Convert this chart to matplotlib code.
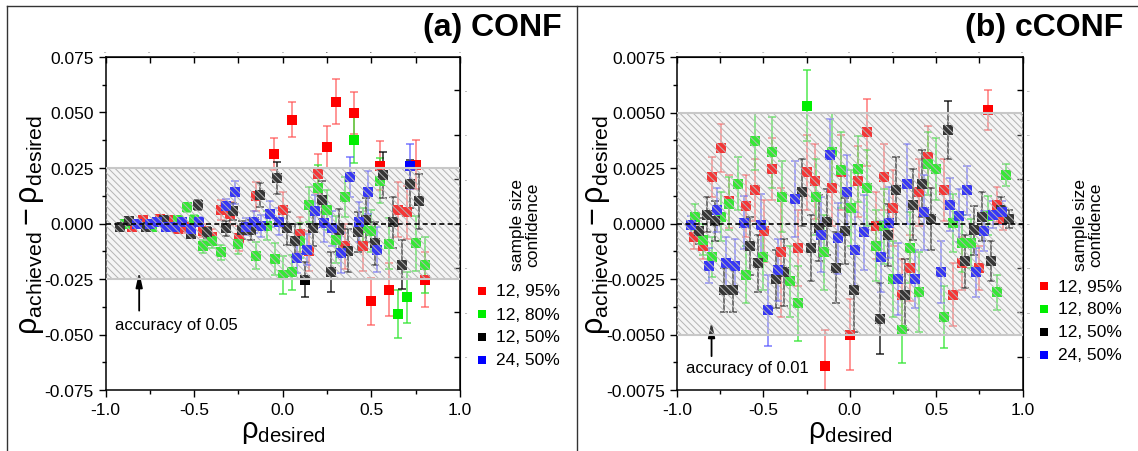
import matplotlib
matplotlib.use("Agg")
import matplotlib.pyplot as plt
from matplotlib.lines import Line2D
from matplotlib.patches import Rectangle
from matplotlib.ticker import MultipleLocator, FormatStrFormatter

plt.rcParams['font.family'] = ['Liberation Sans', 'DejaVu Sans']
plt.rcParams['mathtext.fontset'] = 'custom'
plt.rcParams['mathtext.rm'] = 'Liberation Sans'
plt.rcParams['mathtext.it'] = 'Liberation Sans:italic'
plt.rcParams['axes.unicode_minus'] = False
plt.rcParams['hatch.linewidth'] = 0.7

# ---------------- panel (a) CONF ----------------
a_red_x = [-0.85, -0.79, -0.69, -0.64, -0.59, -0.55, -0.45, -0.40, -0.35, -0.30, -0.245, -0.15, -0.05, 0.0,
           0.05, 0.10, 0.15, 0.20, 0.25, 0.30, 0.35, 0.40, 0.45, 0.50, 0.55, 0.60, 0.65, 0.70, 0.75, 0.80]
a_red_y = [-0.0014, 0.0015, 0.002, 0.0017, -0.0025, -0.0016, -0.0032, -0.0062, 0.0062, 0.0045, -0.0067, 0.0122,
           0.0313, 0.0062, 0.0468, -0.0049, -0.0122, 0.0224, 0.0343, 0.0549, -0.0103, 0.0498, -0.0103, -0.035,
           0.026, -0.0298, 0.0062, 0.005, 0.0265, -0.0253]
a_red_e = [0.001, 0.0012, 0.0015, 0.0018, 0.002, 0.0025, 0.003, 0.0035, 0.0045, 0.005, 0.0055, 0.0065, 0.007,
           0.008, 0.008, 0.008, 0.009, 0.009, 0.0095, 0.010, 0.010, 0.0095, 0.011, 0.0105, 0.011, 0.012, 0.0125,
           0.012, 0.011, 0.0125]

a_green_x = [-0.89, -0.74, -0.59, -0.54, -0.50, -0.45, -0.40, -0.35, -0.25, -0.15, -0.09, -0.045, 0.0, 0.05,
             0.10, 0.15, 0.20, 0.25, 0.30, 0.35, 0.40, 0.45, 0.50, 0.55, 0.60, 0.65, 0.70, 0.75, 0.80]
a_green_y = [0.0, -0.0017, 0.0017, 0.0073, 0.0017, -0.0103, -0.008, -0.013, -0.0092, -0.0145, -0.001, -0.016,
             -0.0232, -0.022, -0.0077, 0.0085, 0.0158, 0.006, -0.0073, 0.0118, 0.0377, -0.0022, -0.0032, 0.0193,
             -0.0092, -0.0408, -0.0333, -0.0089, -0.0187]
a_green_e = [0.0008, 0.001, 0.0015, 0.002, 0.0022, 0.0028, 0.003, 0.0035, 0.0045, 0.006, 0.0065, 0.007, 0.0085,
             0.008, 0.008, 0.008, 0.0105, 0.009, 0.0105, 0.009, 0.0105, 0.009, 0.0095, 0.010, 0.0115, 0.011,
             0.0115, 0.0125, 0.0125]

a_black_x = [-0.92, -0.87, -0.77, -0.67, -0.52, -0.48, -0.43, -0.32, -0.28, -0.23, -0.18, -0.13, -0.03, 0.025,
             0.07, 0.125, 0.17, 0.22, 0.27, 0.32, 0.37, 0.425, 0.47, 0.52, 0.565, 0.62, 0.67, 0.72, 0.77]
a_black_y = [-0.0014, 0.001, -0.0014, 0.0017, -0.0047, 0.0085, -0.004, -0.0022, 0.0055, -0.003, -0.003, 0.0128,
             0.0205, -0.0022, -0.0077, -0.0253, -0.0022, 0.0107, -0.0217, -0.003, -0.0122, -0.0037, 0.0017,
             -0.009, 0.0218, 0.0005, -0.0185, 0.0178, 0.01]
a_black_e = [0.0006, 0.0008, 0.001, 0.0012, 0.002, 0.0022, 0.0025, 0.0035, 0.0038, 0.004, 0.0045, 0.0055, 0.007,
             0.0075, 0.0075, 0.008, 0.008, 0.0085, 0.009, 0.0095, 0.0095, 0.009, 0.01, 0.0095, 0.0105, 0.0115,
             0.011, 0.011, 0.0125]

a_blue_x = [-0.82, -0.75, -0.71, -0.66, -0.61, -0.57, -0.52, -0.47, -0.32, -0.27, -0.21, -0.165, -0.12, -0.07,
            -0.02, 0.08, 0.135, 0.18, 0.23, 0.28, 0.33, 0.38, 0.43, 0.48, 0.53, 0.72]
a_blue_y = [0.0, 0.0, 0.0008, -0.0014, -0.0014, 0.0008, -0.0025, 0.0008, 0.0077, 0.014, -0.0014, 0.0008, -0.001,
            0.0043, 0.0008, -0.0155, -0.0118, 0.0055, 0.0002, -0.0022, -0.0133, 0.0208, 0.0005, 0.014, -0.0118,
            0.0257]
a_blue_e = [0.0006, 0.0008, 0.0008, 0.001, 0.0012, 0.0015, 0.0018, 0.002, 0.0035, 0.005, 0.004, 0.005, 0.005,
            0.006, 0.006, 0.007, 0.007, 0.0075, 0.0085, 0.008, 0.009, 0.009, 0.009, 0.0095, 0.01, 0.01]

# ---------------- panel (b) cCONF ----------------
b_red_x = [-0.90, -0.85, -0.796, -0.747, -0.70, -0.60, -0.547, -0.495, -0.448, -0.40, -0.30, -0.246, -0.20,
           -0.145, -0.10, -0.048, 0.0, 0.05, 0.10, 0.15, 0.20, 0.25, 0.30, 0.347, 0.40, 0.453, 0.547, 0.60,
           0.648, 0.747, 0.80, 0.853, 0.89]
b_red_y = [-0.00063, -0.001, 0.0021, 0.0034, 0.001, 0.0008, 0.0015, -0.00034, 0.00245, -0.0013, -0.0011, 0.0023,
           0.0019, -0.0064, 0.0016, 0.0023, -0.005, 0.0019, 0.0041, -0.0001, 0.0021, 0.0007, -0.0032, -0.002,
           0.0014, 0.003, 0.0015, -0.0032, -0.0018, -0.002, 0.0051, 0.00085, 0.0002]
b_red_e = [0.0005, 0.0006, 0.0009, 0.0011, 0.0012, 0.0014, 0.0014, 0.0014, 0.0014, 0.0029, 0.0017, 0.0017,
           0.0017, 0.0016, 0.0017, 0.0017, 0.0016, 0.0016, 0.0015, 0.0015, 0.0015, 0.0017, 0.0016, 0.0015,
           0.0015, 0.0014, 0.0014, 0.0014, 0.0012, 0.001, 0.0009, 0.0008, 0.0005]

b_green_x = [-0.895, -0.85, -0.796, -0.743, -0.70, -0.646, -0.60, -0.547, -0.50, -0.448, -0.394, -0.347, -0.30,
             -0.246, -0.194, -0.147, -0.10, -0.048, 0.006, 0.05, 0.10, 0.15, 0.20, 0.25, 0.30, 0.35, 0.40, 0.453,
             0.50, 0.547, 0.60, 0.648, 0.70, 0.80, 0.853, 0.905]
b_green_y = [0.0003, -0.00073, -0.0015, 0.0003, 0.0009, 0.0018, -0.0023, 0.0037, -0.0015, 0.0032, 0.0012,
             -0.0026, -0.0036, 0.0053, 0.0012, -0.0013, 0.0032, 0.0024, 0.0007, 0.00245, 0.0016, -0.001,
             -0.00013, -0.0025, -0.0048, -0.0011, -0.0031, 0.0027, 0.00245, -0.0042, 0.00002, -0.0009, -0.0009,
             0.00036, -0.0031, 0.0022]
b_green_e = [0.0006, 0.0007, 0.0009, 0.0011, 0.0012, 0.0012, 0.0013, 0.0013, 0.0015, 0.0016, 0.0016, 0.0016,
             0.0017, 0.0016, 0.0017, 0.0017, 0.0018, 0.0017, 0.0017, 0.0015, 0.0017, 0.0016, 0.0017, 0.0017,
             0.0015, 0.0016, 0.0018, 0.0014, 0.0014, 0.0014, 0.0013, 0.0013, 0.0011, 0.0009, 0.0008, 0.0005]

b_black_x = [-0.874, -0.827, -0.78, -0.726, -0.674, -0.579, -0.53, -0.427, -0.379, -0.278, -0.225, -0.18, -0.13,
             -0.078, -0.027, 0.023, 0.173, 0.22, 0.27, 0.32, 0.368, 0.42, 0.47, 0.568, 0.667, 0.72, 0.768, 0.82,
             0.874, 0.92]
b_black_y = [-0.00034, 0.0004, 0.00013, -0.003, -0.003, -0.001, -0.0018, -0.0025, -0.0022, 0.0014, -0.0011,
             -0.0002, 0.00006, -0.002, -0.00034, -0.003, -0.0043, -0.0005, 0.0015, -0.0032, 0.00085, 0.0018,
             0.0002, 0.0042, -0.0017, -0.0003, 0.0003, -0.0017, 0.0006, 0.0002]
b_black_e = [0.0006, 0.0008, 0.0009, 0.001, 0.001, 0.0013, 0.0013, 0.0013, 0.0015, 0.0015, 0.0015, 0.0015,
             0.0015, 0.0016, 0.0015, 0.0019, 0.0016, 0.0014, 0.0015, 0.0016, 0.0016, 0.0015, 0.0014, 0.0013,
             0.0012, 0.0011, 0.0011, 0.0009, 0.0006, 0.0004]

b_blue_x = [-0.92, -0.817, -0.768, -0.716, -0.667, -0.615, -0.516, -0.474, -0.417, -0.316, -0.168, -0.116, -0.07,
            -0.017, 0.03, 0.084, 0.18, 0.23, 0.28, 0.33, 0.38, 0.43, 0.526, 0.579, 0.63, 0.68, 0.73, 0.78, 0.827,
            0.88]
b_blue_y = [-0.00006, -0.0019, 0.0006, -0.0018, -0.0019, 0.00003, -0.00006, -0.0039, -0.0021, 0.0011, -0.0005,
            0.0031, -0.00066, 0.0014, -0.0012, -0.0004, -0.0015, 0.00003, -0.0025, 0.0018, -0.0025, 0.0005,
            -0.0022, 0.00085, 0.00036, 0.0015, -0.0022, -0.00034, 0.0004, 0.0005]
b_blue_e = [0.0004, 0.0008, 0.001, 0.0012, 0.0012, 0.0012, 0.0014, 0.0016, 0.0014, 0.0017, 0.0017, 0.0016,
            0.0016, 0.0017, 0.0017, 0.0017, 0.0016, 0.0016, 0.0016, 0.0018, 0.0013, 0.0017, 0.0014, 0.0012,
            0.0012, 0.0011, 0.0011, 0.0009, 0.0006, 0.0005]

labels = ['12, 95%', '12, 80%', '12, 50%', '24, 50%']
colors = ['#ff0000', '#00ee00', '#000000', '#0000ff']
ecolors = [(1, 0.3, 0.3, 0.75), (0.2, 0.9, 0.2, 0.85), (0, 0, 0, 0.85), (0.3, 0.3, 1, 0.75)]

W, H = 1138, 452
fig = plt.figure(figsize=(W / 100, H / 100), dpi=100)


def px(x0, y0, x1, y1):
    return [x0 / W, 1 - y1 / H, (x1 - x0) / W, (y1 - y0) / H]


def draw_panel(ax, series, acc, lim, major, fmt):
    for (xs, ys, es), c, ec in zip(series, colors, ecolors):
        ax.errorbar(xs, ys, yerr=es, fmt='none', ecolor=ec, elinewidth=1.1,
                    capsize=3, capthick=1.1, zorder=2)
        ax.plot(xs, ys, 's', color=c, markersize=6.5, markeredgewidth=0, zorder=3)
    half = acc / 2
    # hatched accuracy band drawn over the points
    ax.add_patch(Rectangle((-1, -half), 2, acc, facecolor=(0.85, 0.85, 0.85, 0.25), edgecolor='#b4b4b4',
                           hatch='\\\\\\\\\\', linewidth=0, zorder=5))
    ax.axhline(half, color='#c8c8c8', lw=1.5, zorder=6)
    ax.axhline(-half, color='#c8c8c8', lw=1.5, zorder=6)
    ax.axhline(0, color='black', lw=1.2, ls=(0, (3, 2)), zorder=7)
    ax.set_xlim(-1, 1)
    ax.set_ylim(-lim, lim)
    ax.xaxis.set_major_locator(MultipleLocator(0.5))
    ax.xaxis.set_minor_locator(MultipleLocator(0.25))
    ax.yaxis.set_major_locator(MultipleLocator(major))
    ax.yaxis.set_minor_locator(MultipleLocator(major / 2))
    ax.xaxis.set_major_formatter(FormatStrFormatter('%.1f'))
    ax.yaxis.set_major_formatter(FormatStrFormatter(fmt))
    ax.tick_params(which='both', direction='out', labelsize=12.5, width=1, top=False, right=False)
    ax.tick_params(which='major', length=5)
    ax.tick_params(which='minor', length=3)
    for s in ax.spines.values():
        s.set_linewidth(1.1)
    # inward ticks on top and right
    for tw in (ax.secondary_xaxis('top'), ax.secondary_yaxis('right')):
        tw.tick_params(which='both', direction='in', labelsize=0, width=1)
        tw.tick_params(which='major', length=4)
        tw.tick_params(which='minor', length=2.5)


axA = fig.add_axes(px(105.5, 58, 460, 391))
draw_panel(axA, [(a_red_x, a_red_y, a_red_e), (a_green_x, a_green_y, a_green_e),
                 (a_black_x, a_black_y, a_black_e), (a_blue_x, a_blue_y, a_blue_e)],
           0.05, 0.075, 0.025, '%.3f')
axA.annotate('', xy=(-0.81, -0.0205), xytext=(-0.81, -0.0405),
             arrowprops=dict(arrowstyle='-|>,head_length=0.9,head_width=0.2', color='black', lw=1.3), zorder=4)
axA.text(-0.946, -0.0453, 'accuracy of 0.05', fontsize=12, va='center', ha='left')

axB = fig.add_axes(px(677, 58, 1022.5, 391))
draw_panel(axB, [(b_red_x, b_red_y, b_red_e), (b_green_x, b_green_y, b_green_e),
                 (b_black_x, b_black_y, b_black_e), (b_blue_x, b_blue_y, b_blue_e)],
           0.01, 0.0075, 0.0025, '%.4f')
axB.annotate('', xy=(-0.80, -0.0043), xytext=(-0.80, -0.0061),
             arrowprops=dict(arrowstyle='-|>,head_length=0.9,head_width=0.2', color='black', lw=1.3), zorder=4)
axB.text(-0.947, -0.0065, 'accuracy of 0.01', fontsize=12, va='center', ha='left')

ylab = r'$\mathrm{ρ}_{\mathrm{achieved}} - \mathrm{ρ}_{\mathrm{desired}}$'
xlab = r'$\mathrm{ρ}_{\mathrm{desired}}$'

# labels, titles and legends for both panels
for (tx, title, xl_x, yl_x, leg_x, leg_y0, ttl_x) in [
        (562, '(a) CONF', 282.8, 31, 482, 292, 525),
        (1123, '(b) cCONF', 850, 597, 1044, 287, 1088)]:
    fig.text(tx / W, 1 - 28 / H, title, fontsize=23, fontweight='bold', ha='right', va='center')
    fig.text(xl_x / W, 1 - 432 / H, xlab, fontsize=21, ha='center', va='center')
    fig.text(yl_x / W, 1 - 225 / H, ylab, fontsize=22, ha='center', va='center', rotation=90)
    fig.text(ttl_x / W, 1 - 225 / H, 'sample size\nconfidence', fontsize=12.5, ha='center', va='center',
             rotation=90, linespacing=1.05)
    for i, (lab, c) in enumerate(zip(labels, colors)):
        yy = 1 - (leg_y0 + i * 23) / H
        fig.add_artist(Line2D([leg_x / W], [yy], marker='s', color=c, markersize=6, markeredgewidth=0,
                              linestyle='none', transform=fig.transFigure))
        fig.text((leg_x + 14) / W, yy, lab, fontsize=12.5, ha='left', va='center')

# outer frame lines
fig.add_artist(Line2D([7 / W, 1], [1 - 7 / H, 1 - 7 / H], color='#333333', lw=1, transform=fig.transFigure))
fig.add_artist(Line2D([7 / W, 7 / W], [0, 1 - 7 / H], color='#333333', lw=1, transform=fig.transFigure))
fig.add_artist(Line2D([577 / W, 577 / W], [0, 1 - 7 / H], color='#333333', lw=1, transform=fig.transFigure))

fig.savefig('out.png', dpi=100)
